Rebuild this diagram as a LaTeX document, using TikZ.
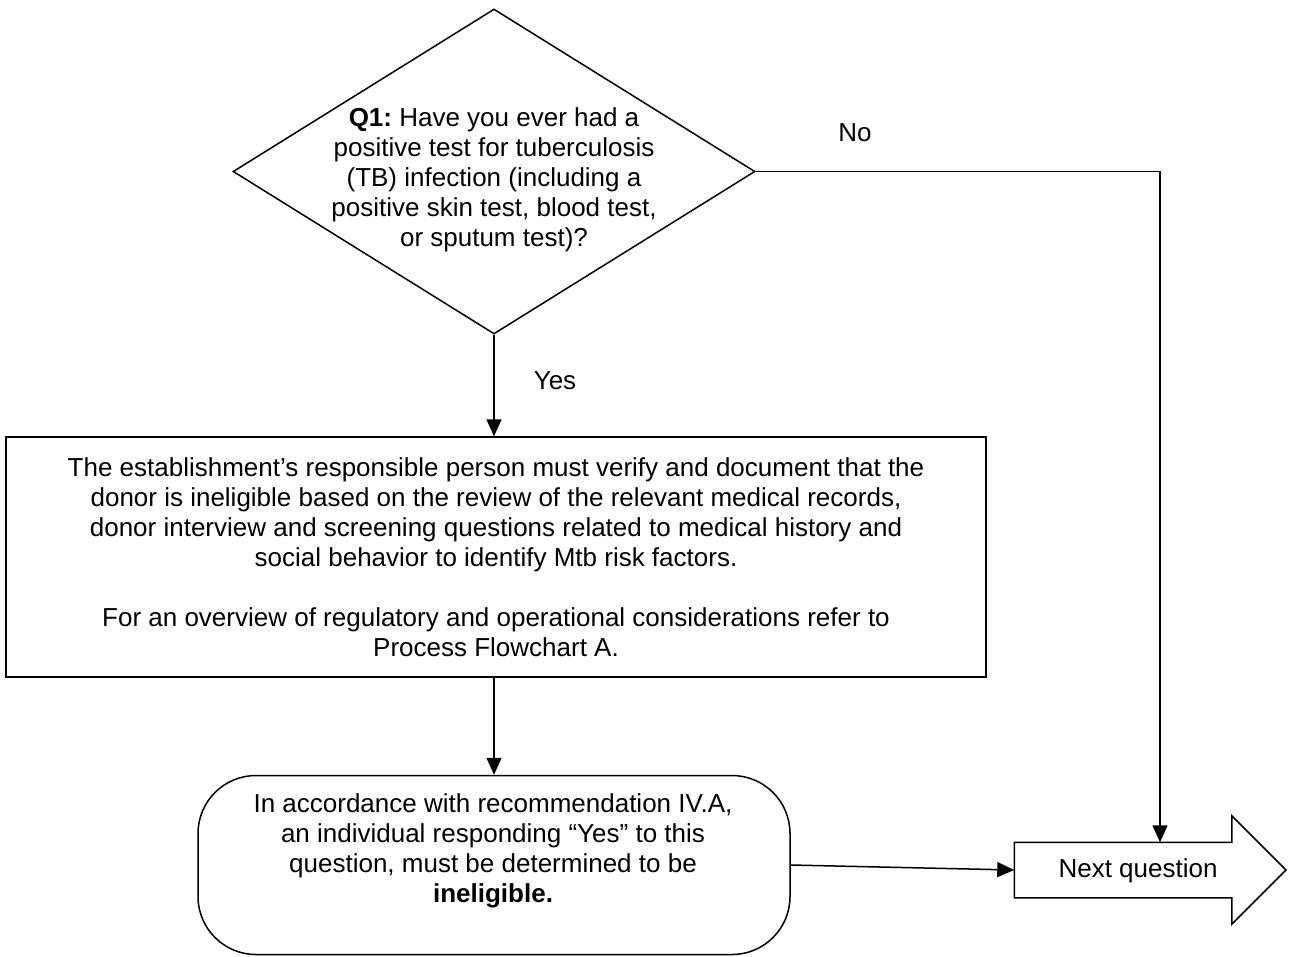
\documentclass[tikz,border=0pt]{standalone}
\usepackage{fontspec}
\setmainfont{Liberation Sans}
\usetikzlibrary{shapes.geometric,arrows.meta}
\frenchspacing

\begin{document}
\begin{tikzpicture}[x=1pt,y=-1pt,
  line width=1.5pt,
  every node/.style={font=\fontsize{26}{30}\selectfont},
  flow/.style={-{Triangle[length=17pt,width=15pt]}},
  decision/.style={draw, diamond, inner sep=0pt, minimum width=522pt, minimum height=325pt},
  process/.style={draw, align=center, minimum width=980pt, minimum height=240pt},
  terminal/.style={draw, rounded corners=58pt, minimum width=592pt, minimum height=179pt},
  txt/.style={align=center}
]
\useasboundingbox (0,0) rectangle (1289,956);

% decision
\node[decision] (q1) at (494,171.5) {};
\node[txt] (q1text) at (494,180) {\textbf{Q1:} Have you ever had a\\
  positive test for tuberculosis\\
  (TB) infection (including a\\
  positive skin test, blood test,\\
  or sputum test)?};

% process box
\node[process] (box) at (496,557) {The establishment’s responsible person must verify and document that the\\
  donor is ineligible based on the review of the relevant medical records,\\
  donor interview and screening questions related to medical history and\\
  social behavior to identify Mtb risk factors.\\[30pt]
  For an overview of regulatory and operational considerations refer to\\
  Process Flowchart A.};

% terminal
\node[terminal] (end) at (494,865) {};
\node[txt] (endtext) at (493,851) {In accordance with recommendation IV.A,\\
  an individual responding “Yes” to this\\
  question, must be determined to be\\
  \textbf{ineligible.}};

% block arrow
\node[inner sep=0pt, minimum width=216pt, minimum height=54pt] (next) at (1123,870) {};
\draw[line join=miter] (next.north west) -- (next.north east) -- ++(0,-26.5)
  -- (1286,870) -- ([yshift=-26.5pt]next.south east) -- (next.south east)
  -- (next.south west) -- cycle;
\node (nexttext) at (1138,871) {Next question};

% labels
\node (no) at (855,133) {No};
\node (yes) at (555,381) {Yes};

% connectors
\coordinate (turn) at (1160,171.5);
\draw[flow] (q1.south) -- (q1.south |- box.north);
\draw[flow] (box.south -| end.north) -- (end.north);
\draw[flow] (q1.east) -- (turn) -- (turn |- next.north);
\draw[flow] (end.east) -- (next.west);
\end{tikzpicture}
\end{document}
